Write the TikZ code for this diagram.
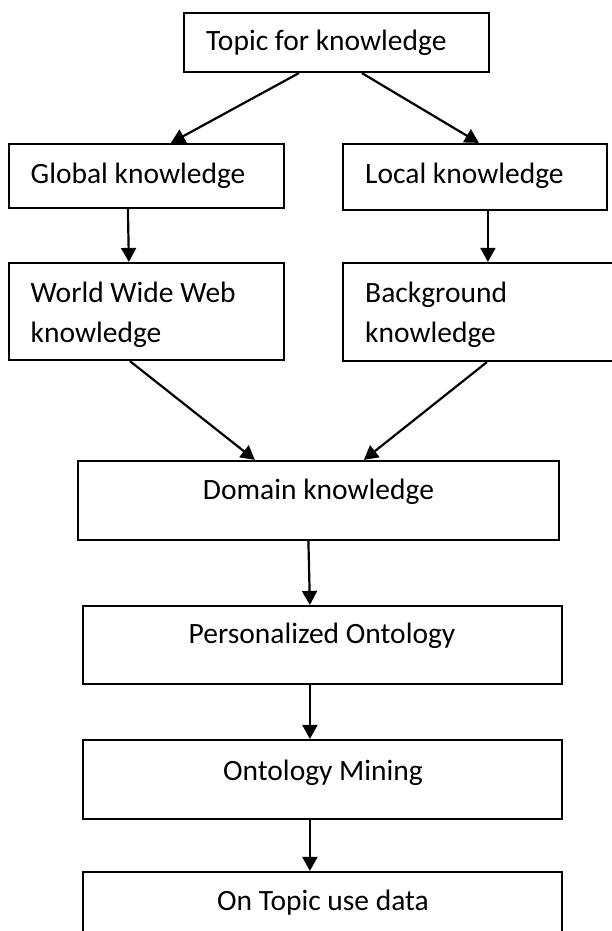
\documentclass[tikz,border=0pt]{standalone}
\usepackage{fontspec}
\setmainfont{Carlito}
\usetikzlibrary{arrows.meta}
\tikzset{
  box/.style={draw=black, line width=2.2pt, rectangle, inner sep=0pt},
  lbl/.style={inner sep=0pt, font=\fontsize{29.5}{40}\selectfont},
  arr/.style={line width=2.2pt, -{Triangle[length=14pt,width=15pt]}},
}
\begin{document}
\begin{tikzpicture}[x=1pt,y=-1pt]
\useasboundingbox (0,0) rectangle (612,931);
\clip (0,0) rectangle (612,931);
% boxes
\node[box, minimum width=305pt, minimum height=59pt] (top) at (336.5,42.5) {};
\node[box, minimum width=275pt, minimum height=64pt] (glob) at (146.5,176) {};
\node[box, minimum width=264pt, minimum height=66pt] (loc) at (475,177) {};
\node[box, minimum width=275pt, minimum height=97pt] (www) at (146.5,311.5) {};
\node[box, minimum width=280pt, minimum height=98pt] (bg) at (483,312) {};
\node[box, minimum width=481pt, minimum height=79pt] (dom) at (318.5,500.5) {};
\node[box, minimum width=479pt, minimum height=78pt] (pers) at (322.5,645) {};
\node[box, minimum width=479pt, minimum height=79pt] (om) at (322.5,779.5) {};
\node[box, minimum width=479pt, minimum height=78pt] (otu) at (322.5,911) {};
% labels
\node[lbl, anchor=base west] (ttop) at (206,51) {Topic for knowledge};
\node[lbl, anchor=base west] (tglob) at (30.5,183) {Global knowledge};
\node[lbl, anchor=base west] (tloc) at (365,183) {Local knowledge};
\node[lbl, anchor=base west] (twww1) at (30.5,302) {World Wide Web};
\node[lbl, anchor=base west] (twww2) at (30.5,342) {knowledge};
\node[lbl, anchor=base west] (tbg1) at (365,302) {Background};
\node[lbl, anchor=base west] (tbg2) at (365,342) {knowledge};
\node[lbl, anchor=base] (tdom) at (318.5,499) {Domain knowledge};
\node[lbl, anchor=base] (tpers) at (322,643) {Personalized Ontology};
\node[lbl, anchor=base] (tom) at (323,780) {Ontology Mining};
\node[lbl, anchor=base] (totu) at (323,910) {On Topic use data};
% arrows
\draw[arr] ([xshift=116pt]top.south west) -- ([xshift=163pt]glob.north west);
\draw[arr] ([xshift=179pt]top.south west) -- ([xshift=137pt]loc.north west);
\draw[arr] ([xshift=120pt]glob.south west) -- ([xshift=121pt]www.north west);
\draw[arr] ([xshift=146pt]loc.south west) -- ([xshift=146pt]bg.north west);
\draw[arr] ([xshift=122pt]www.south west) -- ([xshift=178pt]dom.north west);
\draw[arr] ([xshift=145pt]bg.south west) -- ([xshift=287pt]dom.north west);
\draw[arr] ([xshift=231.5pt]dom.south west) -- ([xshift=228pt]pers.north west);
\draw[arr] ([xshift=228pt]pers.south west) -- ([xshift=228pt]om.north west);
\draw[arr] ([xshift=228pt]om.south west) -- ([xshift=228pt]otu.north west);
\end{tikzpicture}
\end{document}
